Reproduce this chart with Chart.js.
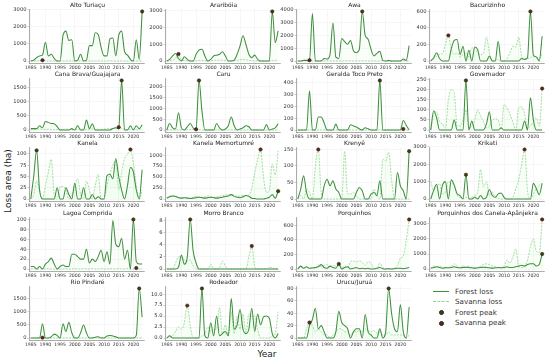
<!DOCTYPE html>
<html>
<head>
<meta charset="utf-8">
<script src="https://cdn.jsdelivr.net/npm/chart.js@4.4.1/dist/chart.umd.min.js"></script>
<style>
  body { margin: 0; background: #fff; font-family: "DejaVu Sans", sans-serif; }
  #wrap { position: relative; width: 550px; height: 362px; overflow: hidden; background: #fff; }
  #wrap canvas { position: absolute; z-index: 1; }
  .ttl { position: absolute; z-index: 2; width: 117px; text-align: center; font-size: 6px; line-height: 7px; color: #222; white-space: nowrap; -webkit-font-smoothing: antialiased; }
  .axt { position: absolute; font-size: 9px; color: #222; white-space: nowrap; }
  .lg { position: absolute; font-size: 7.2px; line-height: 9px; color: #333; white-space: nowrap; }
  .lgline { position: absolute; width: 16px; height: 0; }
  .lgdot { position: absolute; width: 3px; height: 3px; border-radius: 50%; border: 0.6px solid #222; }
</style>
</head>
<body>
<div id="wrap"></div>
<script>
const years = [1985, 1986, 1987, 1988, 1989, 1990, 1991, 1992, 1993, 1994, 1995, 1996, 1997, 1998, 1999,
  2000, 2001, 2002, 2003, 2004, 2005, 2006, 2007, 2008, 2009, 2010, 2011, 2012, 2013, 2014,
  2015, 2016, 2017, 2018, 2019, 2020, 2021, 2022, 2023];
const xTicks = [1985, 1990, 1995, 2000, 2005, 2010, 2015, 2020];

const names = ['Alto Turiaçu', 'Araribóia', 'Awa', 'Bacurizinho',
  'Cana Brava/Guajajara', 'Caru', 'Geralda Toco Preto', 'Governador',
  'Kanela', 'Kanela Memortumré', 'Krenyê', 'Krikati',
  'Lagoa Comprida', 'Morro Branco', 'Porquinhos', 'Porquinhos dos Canela-Apãnjekra',
  'Rio Pindaré', 'Rodeador', 'Urucu/Juruá'];

const yTicks = [
  [0, 1000, 2000, 3000], [0, 1000, 2000, 3000], [0, 1000, 2000, 3000, 4000], [0, 200, 400, 600],
  [0, 500, 1000, 1500], [0, 500, 1000, 1500, 2000], [0, 100, 200, 300, 400], [0, 50, 100, 150, 200, 250],
  [0, 25, 50, 75, 100], [0, 250, 500, 750, 1000], [0, 50, 100, 150], [0, 1000, 2000, 3000],
  [0, 20, 40, 60, 80, 100], [0, 2, 4, 6, 8], [0, 200, 400, 600], [0, 1000, 2000, 3000],
  [0, 500, 1000, 1500], [0, 2.5, 5, 7.5, 10], [0, 20, 40, 60, 80]
];

// forest loss (ha), 1985-2023
const forestAltoTuriacu = [0, 50, 200, 300, 350, 1100, 300, 400, 150, 0, 0, 1500, 1750, 1200, 1250, 0, 50, 400, 0, 50, 900, 900, 1650, 1550, 800, 300, 300, 1300, 1350, 300, 1500, 1750, 550, 350, 100, 0, 1250, 100, 2900];
const forestArariboia = [0, 100, 300, 450, 150, 0, 250, 100, 0, 0, 400, 650, 700, 300, 0, 100, 300, 350, 400, 550, 300, 0, 0, 50, 400, 900, 1500, 1000, 400, 200, 350, 100, 0, 0, 0, 0, 2950, 1100, 1800];
const forestAwa = [0, 0, 50, 50, 0, 3700, 0, 0, 0, 200, 150, 500, 2950, 300, 200, 1750, 1500, 1300, 1600, 800, 650, 900, 3850, 2000, 1700, 900, 400, 600, 750, 50, 0, 50, 0, 0, 0, 0, 150, 50, 1200];
const forestBacurizinho = [0, 40, 100, 30, 0, 0, 0, 150, 250, 260, 80, 180, 0, 130, 0, 170, 140, 0, 0, 0, 60, 0, 0, 240, 0, 0, 0, 0, 0, 0, 0, 30, 20, 40, 600, 70, 50, 0, 300];
const forestCanaBrava = [50, 50, 50, 150, 80, 300, 270, 230, 220, 120, 0, 0, 0, 0, 50, 0, 150, 0, 0, 350, 50, 220, 0, 0, 0, 0, 0, 0, 50, 80, 50, 1750, 0, 0, 150, 0, 150, 50, 180];
const forestCaru = [0, 300, 100, 50, 800, 100, 0, 150, 300, 100, 0, 2300, 900, 0, 0, 0, 0, 300, 100, 0, 50, 200, 600, 200, 0, 50, 100, 200, 150, 0, 0, 0, 0, 0, 250, 0, 50, 100, 300];
const forestGeralda = [0, 0, 0, 0, 330, 0, 0, 110, 110, 60, 0, 0, 0, 50, 0, 0, 0, 0, 45, 35, 25, 10, 0, 20, 10, 0, 0, 0, 420, 0, 0, 0, 0, 0, 0, 0, 80, 40, 0];
const forestGovernador = [0, 95, 60, 0, 0, 0, 0, 0, 50, 0, 0, 0, 245, 0, 45, 0, 0, 0, 0, 30, 90, 0, 0, 0, 10, 0, 0, 0, 0, 0, 0, 0, 45, 0, 160, 50, 0, 0, 0];
const forestKanela = [0, 50, 108, 20, 0, 0, 0, 0, 0, 25, 0, 0, 25, 10, 0, 35, 0, 0, 25, 0, 0, 10, 0, 5, 0, 0, 52, 55, 45, 90, 50, 20, 0, 30, 70, 60, 20, 0, 65];
const forestKanelaMemortumre = [20, 50, 70, 60, 30, 20, 30, 20, 10, 20, 30, 40, 30, 20, 30, 40, 30, 20, 30, 40, 60, 70, 100, 60, 40, 30, 50, 80, 60, 20, 10, 0, 0, 0, 20, 40, 100, 20, 180];
const forestKrenye = [0, 30, 70, 20, 0, 0, 0, 0, 0, 40, 60, 40, 55, 30, 20, 0, 0, 0, 0, 0, 20, 35, 25, 0, 0, 15, 20, 10, 55, 0, 0, 0, 0, 0, 80, 40, 25, 0, 145];
const forestKrikati = [0, 500, 850, 0, 800, 1000, 0, 1100, 800, 300, 200, 0, 1400, 0, 0, 100, 0, 200, 0, 100, 550, 200, 100, 300, 350, 100, 0, 0, 0, 0, 0, 0, 0, 0, 0, 900, 600, 250, 900];
const forestLagoaComprida = [5, 5, 0, 5, 0, 10, 15, 22, 10, 0, 5, 8, 5, 5, 30, 30, 25, 20, 20, 40, 12, 20, 15, 25, 38, 15, 35, 10, 98, 50, 45, 62, 20, 38, 0, 100, 15, 10, 10];
const forestMorroBranco = [0, 0, 0, 0, 0.3, 2.3, 0.8, 2, 8.2, 3, 1, 0, 0, 0, 0, 0, 0, 0, 0, 0, 0, 0, 0, 0, 0, 0, 0, 0, 0, 0, 0, 0, 0, 0, 0, 0, 0, 0, 0];
const forestPorquinhos = [0, 40, 10, 30, 10, 15, 20, 30, 60, 20, 10, 40, 20, 10, 70, 0, 20, 30, 0, 10, 20, 5, 10, 5, 10, 0, 0, 10, 20, 5, 0, 5, 0, 5, 10, 10, 5, 10, 20];
const forestPorquinhosCanela = [50, 100, 150, 100, 50, 100, 80, 100, 150, 100, 80, 100, 120, 100, 80, 60, 80, 100, 120, 100, 80, 60, 80, 100, 80, 100, 150, 100, 100, 150, 200, 250, 200, 300, 350, 350, 200, 300, 1000];
const forestRioPindare = [0, 0, 0, 0, 550, 0, 0, 50, 150, 100, 0, 550, 250, 600, 200, 0, 0, 200, 500, 200, 0, 0, 30, 50, 0, 0, 80, 100, 80, 50, 0, 0, 0, 0, 0, 0, 100, 1900, 800];
const forestRodeador = [0, 0.5, 0, 0, 0, 0, 0, 0, 0, 0, 0, 0, 11.3, 0.5, 0, 3.5, 0.5, 5, 0.5, 1, 1.5, 0.5, 9, 2, 3, 6.5, 2, 1, 2, 6.8, 1.5, 5.5, 3, 4.8, 5, 4.5, 1, 0, 1];
const forestUrucu = [0, 0, 0, 0, 20, 30, 48, 15, 20, 10, 0, 0, 0, 10, 43, 25, 20, 15, 0, 10, 15, 15, 0, 38, 10, 5, 0, 0, 15, 0, 10, 80, 40, 15, 10, 54, 10, 0, 50];

// savanna loss (ha), 1985-2023
const savannaAltoTuriacu = [0, 5, 10, 20, 45, 15, 5, 10, 5, 0, 0, 5, 10, 5, 5, 0, 5, 10, 5, 0, 5, 10, 5, 10, 5, 0, 5, 10, 5, 0, 5, 10, 5, 0, 0, 0, 5, 10, 5];
const savannaArariboia = [0, 20, 60, 150, 420, 80, 30, 20, 10, 0, 10, 30, 40, 20, 10, 20, 40, 50, 60, 40, 30, 20, 10, 20, 50, 80, 100, 80, 40, 20, 10, 5, 0, 0, 0, 10, 30, 40, 60];
const savannaAwa = [0, 5, 10, 20, 60, 10, 0, 0, 5, 10, 20, 10, 5, 10, 20, 10, 5, 10, 20, 10, 5, 10, 20, 10, 5, 10, 5, 0, 5, 10, 5, 0, 0, 5, 10, 20, 30, 10, 5];
const savannaBacurizinho = [0, 20, 60, 80, 90, 200, 310, 150, 80, 100, 50, 80, 100, 50, 160, 150, 100, 80, 90, 290, 100, 0, 10, 20, 0, 0, 30, 100, 180, 170, 290, 60, 20, 30, 40, 60, 50, 30, 100];
const savannaCanaBrava = [10, 20, 30, 40, 30, 20, 30, 20, 10, 20, 10, 20, 30, 20, 10, 20, 30, 40, 30, 20, 30, 40, 20, 10, 20, 30, 40, 50, 60, 80, 100, 60, 30, 20, 20, 10, 20, 30, 20];
const savannaCaru = [5, 10, 5, 10, 5, 10, 5, 10, 15, 20, 35, 10, 5, 0, 5, 10, 5, 10, 5, 0, 5, 10, 5, 10, 5, 0, 5, 10, 5, 0, 5, 10, 5, 0, 5, 10, 5, 0, 5];
const savannaGeralda = [0, 0, 0, 0, 2, 1, 0, 0, 1, 2, 1, 0, 0, 1, 0, 0, 1, 2, 1, 0, 0, 1, 0, 1, 2, 1, 0, 0, 1, 0, 0, 1, 2, 1, 0, 0, 8, 2, 0];
const savannaGovernador = [0, 80, 90, 40, 30, 10, 150, 200, 185, 20, 20, 50, 100, 10, 20, 50, 100, 70, 40, 10, 20, 50, 55, 50, 5, 125, 110, 80, 40, 0, 110, 115, 80, 10, 20, 40, 60, 20, 205];
const savannaKanela = [0, 10, 40, 20, 0, 30, 60, 88, 10, 0, 28, 28, 20, 0, 10, 25, 45, 10, 0, 40, 20, 0, 30, 55, 0, 0, 30, 55, 75, 85, 20, 60, 90, 100, 110, 80, 30, 0, 20];
const savannaKanelaMemortumre = [30, 60, 80, 70, 40, 30, 40, 30, 20, 40, 60, 50, 40, 50, 70, 60, 40, 50, 60, 80, 90, 100, 110, 80, 60, 70, 90, 80, 90, 250, 600, 900, 1130, 500, 150, 200, 800, 550, 1100];
const savannaKrenye = [0, 10, 0, 30, 20, 0, 100, 150, 20, 0, 0, 0, 0, 0, 0, 0, 145, 15, 15, 20, 10, 0, 0, 0, 0, 0, 30, 10, 0, 120, 115, 142, 60, 0, 0, 0, 0, 0, 0];
const savannaKrikati = [1000, 500, 700, 900, 300, 400, 1000, 900, 800, 200, 100, 50, 100, 50, 100, 200, 400, 1700, 700, 1000, 200, 400, 100, 50, 0, 0, 0, 0, 100, 600, 1100, 2000, 2850, 500, 0, 300, 600, 800, 900];
const savannaLagoaComprida = [0, 1, 0, 0, 0, 0, 1, 0, 0, 0, 0, 0, 1, 0, 0, 1, 0, 0, 1, 0, 0, 1, 0, 0, 1, 0, 0, 1, 0, 0, 1, 0, 0, 1, 0, 0, 2, 0, 1];
const savannaMorroBranco = [0, 0, 0, 1, 2, 2, 1.5, 1.3, 1.5, 0.5, 0, 0, 0, 0, 0, 0.8, 0, 0, 0.2, 1.3, 0.5, 0, 0, 0, 0, 0, 0, 0, 2, 3.8, 0.5, 0, 0, 0, 0, 0.3, 0.2, 0, 0];
const savannaPorquinhos = [10, 30, 20, 20, 10, 20, 10, 60, 30, 50, 60, 20, 50, 40, 60, 20, 40, 20, 100, 110, 100, 110, 90, 50, 100, 80, 10, 5, 80, 20, 0, 0, 0, 10, 50, 150, 180, 400, 680];
const savannaPorquinhosCanela = [50, 200, 150, 200, 100, 50, 100, 150, 350, 200, 100, 200, 100, 200, 100, 50, 100, 200, 300, 350, 300, 200, 150, 100, 100, 200, 600, 400, 800, 1350, 200, 100, 200, 600, 1500, 2000, 1200, 1100, 3300];
const savannaRioPindare = [0, 2, 5, 8, 15, 5, 2, 0, 2, 5, 3, 0, 2, 5, 3, 0, 2, 5, 3, 0, 2, 5, 3, 0, 2, 5, 3, 0, 2, 5, 3, 0, 2, 5, 3, 0, 2, 5, 3];
const savannaRodeador = [0, 0.3, 0.5, 1.5, 2.5, 2, 3.5, 7.4, 3, 0, 0, 0, 0.5, 1, 2.5, 1.5, 2, 2, 7, 1, 3, 0.5, 6, 1, 5, 2, 5.5, 1, 5.5, 5, 5, 2, 0, 0, 0, 0, 0.5, 1, 6];
const savannaUrucu = [0, 0, 0, 15, 25, 20, 10, 15, 10, 5, 5, 0, 5, 10, 15, 15, 10, 10, 5, 10, 10, 12, 10, 15, 12, 10, 12, 8, 10, 5, 5, 10, 5, 5, 5, 5, 5, 0, 5];

const forestSeries = [forestAltoTuriacu, forestArariboia, forestAwa, forestBacurizinho,
  forestCanaBrava, forestCaru, forestGeralda, forestGovernador,
  forestKanela, forestKanelaMemortumre, forestKrenye, forestKrikati,
  forestLagoaComprida, forestMorroBranco, forestPorquinhos, forestPorquinhosCanela,
  forestRioPindare, forestRodeador, forestUrucu];
const savannaSeries = [savannaAltoTuriacu, savannaArariboia, savannaAwa, savannaBacurizinho,
  savannaCanaBrava, savannaCaru, savannaGeralda, savannaGovernador,
  savannaKanela, savannaKanelaMemortumre, savannaKrenye, savannaKrikati,
  savannaLagoaComprida, savannaMorroBranco, savannaPorquinhos, savannaPorquinhosCanela,
  savannaRioPindare, savannaRodeador, savannaUrucu];

const FOREST = '#3f8f3f';
const SAVANNA = '#93d893';
const FOREST_PEAK = '#4a3c06';
const SAVANNA_PEAK = '#6a2412';

const colLeft = [29, 165, 296, 429];
const rowTop = [9, 78, 147, 217, 286];
const plotW = 117, plotH = 54, yAxisW = 28, padTop = 5;

Chart.defaults.font.family = '"DejaVu Sans", sans-serif';

const wrap = document.getElementById('wrap');

names.forEach((name, i) => {
  const col = i % 4, row = Math.floor(i / 4);
  const left = colLeft[col], top = rowTop[row];
  const forest = forestSeries[i], savanna = savannaSeries[i], ticks = yTicks[i];

  const cv = document.createElement('canvas');
  cv.width = yAxisW + plotW + 3;
  cv.height = padTop + plotH + 9;
  cv.style.left = (left - yAxisW) + 'px';
  cv.style.top = (top - padTop) + 'px';
  wrap.appendChild(cv);

  const ttl = document.createElement('div');
  ttl.className = 'ttl';
  ttl.style.left = left + 'px';
  ttl.style.top = (top - 8) + 'px';
  ttl.textContent = name;
  wrap.appendChild(ttl);

  const fMax = Math.max(...forest), sMax = Math.max(...savanna);
  const top_ = Math.max(fMax, sMax);
  const fi = forest.indexOf(fMax), si = savanna.indexOf(sMax);
  const decimals = ticks.some(t => !Number.isInteger(t));

  new Chart(cv, {
    type: 'line',
    data: {
      datasets: [
        {
          type: 'scatter', label: 'Forest peak', data: [{ x: years[fi], y: fMax }],
          backgroundColor: FOREST_PEAK, borderColor: '#1a1a1a', borderWidth: 0.5,
          pointRadius: 1.7, order: 0, clip: false
        },
        {
          type: 'scatter', label: 'Savanna peak', data: [{ x: years[si], y: sMax }],
          backgroundColor: SAVANNA_PEAK, borderColor: '#1a1a1a', borderWidth: 0.5,
          pointRadius: 1.7, order: 0, clip: false
        },
        {
          label: 'Forest loss', data: years.map((y, k) => ({ x: y, y: forest[k] })),
          borderColor: FOREST, backgroundColor: 'rgba(144, 238, 144, 0.05)',
          borderWidth: 1.05, pointRadius: 0, fill: 'origin',
          tension: 0.35, cubicInterpolationMode: 'monotone', order: 1
        },
        {
          label: 'Savanna loss', data: years.map((y, k) => ({ x: y, y: savanna[k] })),
          borderColor: SAVANNA, backgroundColor: 'rgba(144, 238, 144, 0.08)',
          borderWidth: 0.85, borderDash: [2, 1.2], pointRadius: 0, fill: 'origin',
          tension: 0.35, cubicInterpolationMode: 'monotone', order: 2
        }
      ]
    },
    options: {
      responsive: false,
      animation: false,
      events: [],
      layout: { padding: { top: padTop, right: 3, left: 0, bottom: 0 } },
      plugins: { legend: { display: false }, tooltip: { enabled: false } },
      scales: {
        x: {
          type: 'linear', min: 1984.4, max: 2023.8, bounds: 'data',
          afterBuildTicks: ax => { ax.ticks = xTicks.map(v => ({ value: v })); },
          afterFit: ax => { ax.height = 9; },
          ticks: { font: { size: 4.6 }, color: '#333', padding: 1, maxRotation: 0, autoSkip: false, callback: v => String(v) },
          grid: { color: '#ececec', lineWidth: 0.5, tickLength: 1.5, tickColor: '#999' },
          border: { color: '#888', width: 0.7 }
        },
        y: {
          min: -0.04 * top_, max: 1.05 * top_, bounds: 'data',
          afterBuildTicks: ax => { ax.ticks = ticks.map(v => ({ value: v })); },
          afterFit: ax => { ax.width = yAxisW; },
          ticks: { font: { size: 5.2 }, color: '#333', padding: 1, callback: v => decimals ? v.toFixed(1) : String(v) },
          grid: { color: '#ececec', lineWidth: 0.5, tickLength: 1.5, tickColor: '#999' },
          border: { color: '#888', width: 0.7 }
        }
      }
    }
  });
});

// axis titles
const yTitle = document.createElement('div');
yTitle.className = 'axt';
yTitle.textContent = 'Loss area (ha)';
yTitle.style.left = '8px';
yTitle.style.top = '181px';
yTitle.style.transform = 'translate(-50%, -50%) rotate(-90deg)';
wrap.appendChild(yTitle);

const xTitle = document.createElement('div');
xTitle.className = 'axt';
xTitle.textContent = 'Year';
xTitle.style.left = '267px';
xTitle.style.top = '354px';
xTitle.style.transform = 'translate(-50%, -50%)';
wrap.appendChild(xTitle);

// legend
const legendItems = [
  { text: 'Forest loss', kind: 'line', color: FOREST },
  { text: 'Savanna loss', kind: 'dash', color: SAVANNA },
  { text: 'Forest peak', kind: 'dot', color: FOREST_PEAK },
  { text: 'Savanna peak', kind: 'dot', color: SAVANNA_PEAK }
];
legendItems.forEach((it, k) => {
  const cy = 291 + k * 10.5;
  if (it.kind === 'dot') {
    const d = document.createElement('div');
    d.className = 'lgdot';
    d.style.background = it.color;
    d.style.left = '439px';
    d.style.top = (cy - 2) + 'px';
    wrap.appendChild(d);
  } else {
    const l = document.createElement('div');
    l.className = 'lgline';
    l.style.left = '433px';
    l.style.top = (cy - 0.5) + 'px';
    l.style.borderTop = it.kind === 'line' ? '1.2px solid ' + it.color : '1px dashed ' + it.color;
    wrap.appendChild(l);
  }
  const t = document.createElement('div');
  t.className = 'lg';
  t.textContent = it.text;
  t.style.left = '455px';
  t.style.top = (cy - 4.5) + 'px';
  wrap.appendChild(t);
});
</script>
</body>
</html>
